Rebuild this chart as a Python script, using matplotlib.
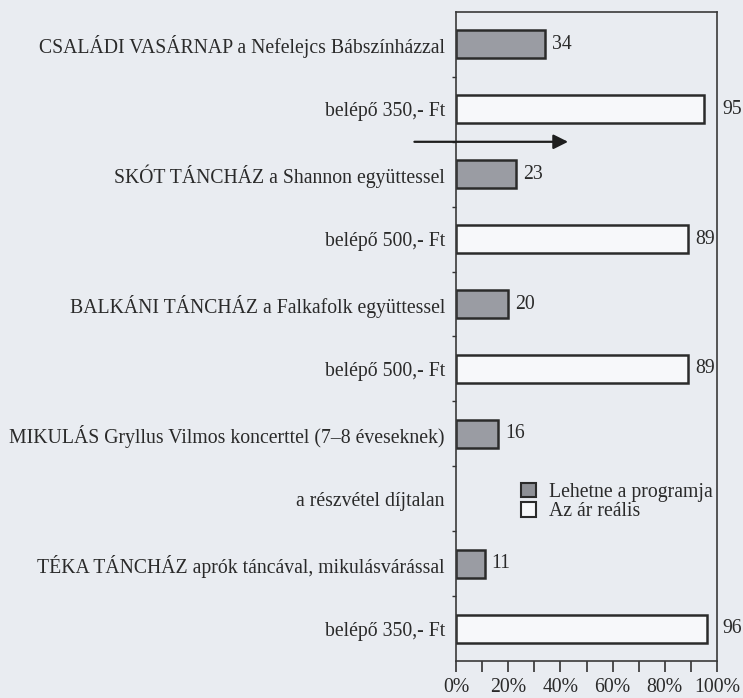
import numpy as np
import matplotlib.pyplot as plt
from matplotlib.patches import Patch

# Adatok
sorok = [
    'CSALÁDI VASÁRNAP a Nefelejcs Bábszínházzal',
    'belépő 350,- Ft',
    'SKÓT TÁNCHÁZ a Shannon együttessel',
    'belépő 500,- Ft',
    'BALKÁNI TÁNCHÁZ a Falkafolk együttessel',
    'belépő 500,- Ft',
    'MIKULÁS Gryllus Vilmos koncerttel (7–8 éveseknek)',
    'a részvétel díjtalan',
    'TÉKA TÁNCHÁZ aprók táncával, mikulásvárással',
    'belépő 350,- Ft',
]
# sorok indexe, ahol "Lehetne a programja" oszlop van
program_idx = [0, 2, 4, 6, 8]
program_ertek = [34, 23, 20, 16, 11]
# sorok indexe, ahol "Az ár reális" oszlop van
ar_idx = [1, 3, 5, 9]
ar_ertek = [95, 89, 89, 96]

x_ticks = [0, 10, 20, 30, 40, 50, 60, 70, 80, 90, 100]
x_labels = ['0%', '', '20%', '', '40%', '', '60%', '', '80%', '', '100%']

hatter = '#e9ecf1'
fs = 14.2
plt.rcParams['font.family'] = ['Liberation Serif', 'DejaVu Serif']

fig = plt.figure(figsize=(7.43, 6.98), dpi=100, facecolor=hatter)
ax = fig.add_axes([456 / 743, 1 - 661 / 698, 261 / 743, 649 / 698])
ax.set_facecolor(hatter)

h = 0.43
ax.barh(program_idx, program_ertek, height=h, color='#9a9ca3',
        edgecolor='#2b2b2b', linewidth=1.8, label='Lehetne a programja')
ax.barh(ar_idx, ar_ertek, height=h, color='#f7f8fa',
        edgecolor='#2b2b2b', linewidth=1.8, label='Az ár reális')

for i, v in zip(program_idx + ar_idx, program_ertek + ar_ertek):
    xpos = v + 2.7 if v < 92 else 102.2
    ax.text(xpos, i, str(v), va='center', ha='left', fontsize=fs,
            color='#2a2a2a', clip_on=False)

ax.set_xlim(0, 100)
ax.set_ylim(9.5, -0.5)
ax.set_xticks(x_ticks)
ax.set_xticklabels(x_labels, fontsize=fs, color='#2a2a2a')
ax.set_yticks(range(len(sorok)))
ax.set_yticklabels(sorok, fontsize=fs, color='#2a2a2a')
ax.set_yticks(np.arange(0.5, 9.5, 1), minor=True)
ax.tick_params(axis='y', which='major', length=0, pad=8)
ax.tick_params(axis='y', which='minor', length=3, width=1, color='#333333')
ax.tick_params(axis='x', length=8, width=1.2, color='#333333', pad=4)
for s in ax.spines.values():
    s.set_color('#3a3a3a')
    s.set_linewidth(1.2)

# nyíl a két sor között
ax.annotate('', xy=(44, 1.5), xytext=(-17, 1.5),
            arrowprops=dict(arrowstyle='-|>', color='#1e1e1e', lw=1.6,
                            mutation_scale=22), annotation_clip=False)

ax.legend(handles=[Patch(facecolor='#8e9096', edgecolor='#2b2b2b', linewidth=1.5),
                   Patch(facecolor='#f7f8fa', edgecolor='#2b2b2b', linewidth=1.5)],
          labels=['Lehetne a programja', 'Az ár reális'],
          loc='center left', bbox_to_anchor=(0.18, 0.245), frameon=False,
          fontsize=fs, handlelength=0.75, handleheight=0.75,
          handletextpad=0.7, labelspacing=0.02, labelcolor='#2a2a2a')

fig.savefig('out.png', dpi=100, facecolor=hatter)
